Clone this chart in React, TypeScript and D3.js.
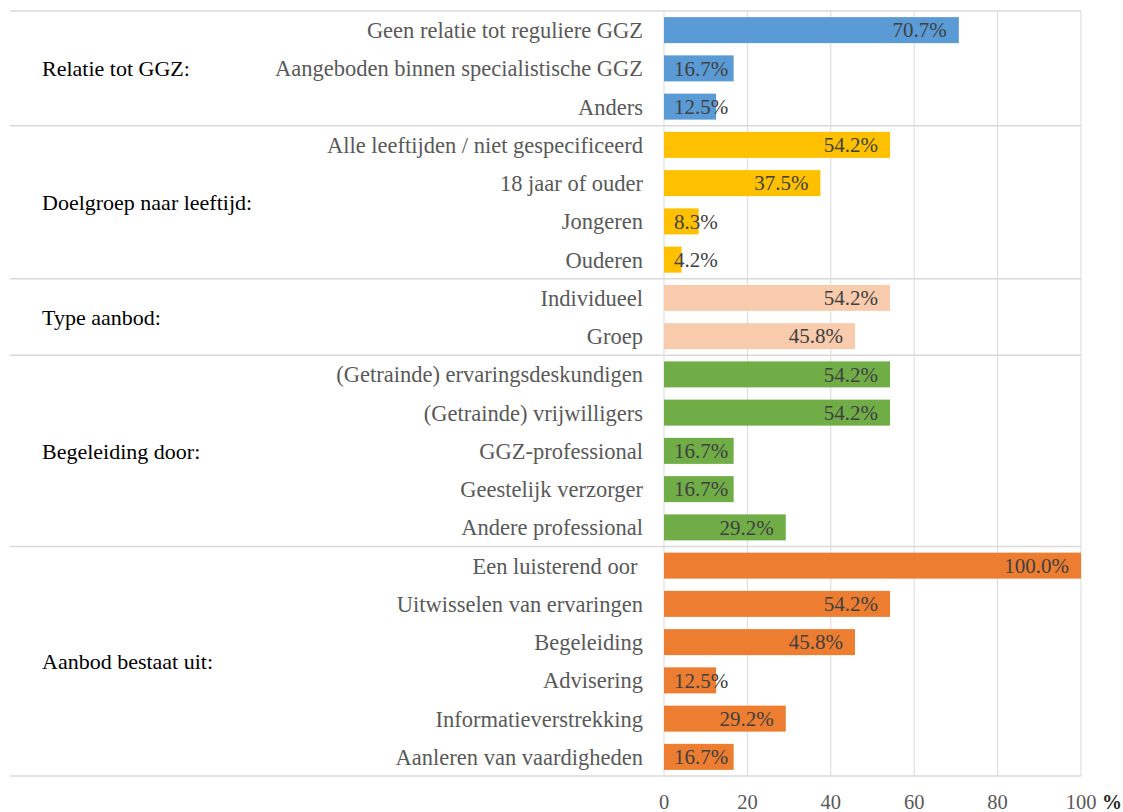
import { useEffect, useRef } from 'react'
import * as d3 from 'd3'

// group titles on the left
const groups = [
  'Relatie tot GGZ:',
  'Doelgroep naar leeftijd:',
  'Type aanbod:',
  'Begeleiding door:',
  'Aanbod bestaat uit:',
]

const groupColors = ['#5B9BD5', '#FFC000', '#F8CBAD', '#70AD47', '#ED7D31']

// categories + values per group (percent)
const relatieCats = ['Geen relatie tot reguliere GGZ', 'Aangeboden binnen specialistische GGZ', 'Anders']
const relatieVals = [70.7, 16.7, 12.5]

const doelgroepCats = ['Alle leeftijden / niet gespecificeerd', '18 jaar of ouder', 'Jongeren', 'Ouderen']
const doelgroepVals = [54.2, 37.5, 8.3, 4.2]

const typeCats = ['Individueel', 'Groep']
const typeVals = [54.2, 45.8]

const begeleidingCats = [
  '(Getrainde) ervaringsdeskundigen',
  '(Getrainde) vrijwilligers',
  'GGZ-professional',
  'Geestelijk verzorger',
  'Andere professional',
]
const begeleidingVals = [54.2, 54.2, 16.7, 16.7, 29.2]

const aanbodCats = [
  'Een luisterend oor\u00A0',
  'Uitwisselen van ervaringen',
  'Begeleiding',
  'Advisering',
  'Informatieverstrekking',
  'Aanleren van vaardigheden',
]
const aanbodVals = [100.0, 54.2, 45.8, 12.5, 29.2, 16.7]

const xTicks = [0, 20, 40, 60, 80, 100]

const W = 1123
const H = 812

export default function App() {
  const ref = useRef<SVGSVGElement>(null)

  useEffect(() => {
    document.body.style.margin = '0'
    const svg = d3.select(ref.current)
    svg.selectAll('*').remove()

    const catLists = [relatieCats, doelgroepCats, typeCats, begeleidingCats, aanbodCats]
    const valLists = [relatieVals, doelgroepVals, typeVals, begeleidingVals, aanbodVals]

    // flatten into rows
    const rows: { cat: string; val: number; g: number; id: string }[] = []
    catLists.forEach((cats, g) => {
      cats.forEach((c, i) => rows.push({ cat: c, val: valLists[g][i], g, id: g + '-' + i }))
    })

    const left = 664, right = 1081, top = 11, bottom = 776
    const x = d3.scaleLinear().domain([0, 100]).range([left, right])
    const y = d3.scaleBand().domain(rows.map(r => r.id)).range([top, bottom]).paddingInner(0.32).paddingOuter(0.16)
    const step = y.step()

    const font = 'Liberation Serif, Times New Roman, serif'

    // vertical gridlines
    svg.append('g')
      .selectAll('line')
      .data(xTicks)
      .join('line')
      .attr('x1', d => x(d)).attr('x2', d => x(d))
      .attr('y1', top).attr('y2', bottom)
      .attr('stroke', '#d9d9d9').attr('stroke-width', 1)

    // group boundaries (horizontal)
    let start = 0
    const bounds = [0]
    catLists.forEach(c => { start += c.length; bounds.push(start) })
    svg.append('g')
      .selectAll('line')
      .data(bounds)
      .join('line')
      .attr('x1', 10).attr('x2', right)
      .attr('y1', d => top + d * step).attr('y2', d => top + d * step)
      .attr('stroke', '#d9d9d9').attr('stroke-width', 1.5)

    // bars
    svg.append('g')
      .selectAll('rect')
      .data(rows)
      .join('rect')
      .attr('x', x(0))
      .attr('y', d => y(d.id)!)
      .attr('width', d => x(d.val) - x(0))
      .attr('height', y.bandwidth())
      .attr('fill', d => groupColors[d.g])

    // category labels
    svg.append('g')
      .selectAll('text')
      .data(rows)
      .join('text')
      .attr('x', 643)
      .attr('y', d => y(d.id)! + y.bandwidth() / 2)
      .attr('dy', '0.35em')
      .attr('text-anchor', 'end')
      .attr('font-family', font)
      .attr('font-size', 22.5)
      .attr('fill', '#595959')
      .text(d => d.cat)

    // value labels: inside end, but never before the bar start
    svg.append('g')
      .selectAll('text')
      .data(rows)
      .join('text')
      .attr('y', d => y(d.id)! + y.bandwidth() / 2)
      .attr('dy', '0.35em')
      .attr('text-anchor', 'end')
      .attr('font-family', font)
      .attr('font-size', 21)
      .attr('fill', '#404040')
      .text(d => d.val.toFixed(1) + '%')
      .attr('x', function (d) {
        const w = (this as SVGTextElement).getComputedTextLength()
        return Math.max(x(d.val) - 12, x(0) + 10 + w)
      })

    // group titles
    svg.append('g')
      .selectAll('text')
      .data(groups)
      .join('text')
      .attr('x', 42)
      .attr('y', (d, i) => top + (bounds[i] + bounds[i + 1]) / 2 * step)
      .attr('dy', '0.35em')
      .attr('font-family', font)
      .attr('font-size', 22)
      .attr('fill', '#000')
      .text(d => d)

    // x tick labels
    const tickG = svg.append('g')
    tickG.selectAll('text')
      .data(xTicks)
      .join('text')
      .attr('x', d => x(d))
      .attr('y', 809)
      .attr('text-anchor', 'middle')
      .attr('font-family', font)
      .attr('font-size', 20.5)
      .attr('fill', '#595959')
      .text(d => d)
    tickG.append('text')
      .attr('x', 1102)
      .attr('y', 809)
      .attr('font-family', font)
      .attr('font-size', 20)
      .attr('font-weight', 'bold')
      .attr('fill', '#262626')
      .text('%')
  }, [])

  return <svg ref={ref} width={W} height={H} style={{ display: 'block', background: '#fff' }} />
}
